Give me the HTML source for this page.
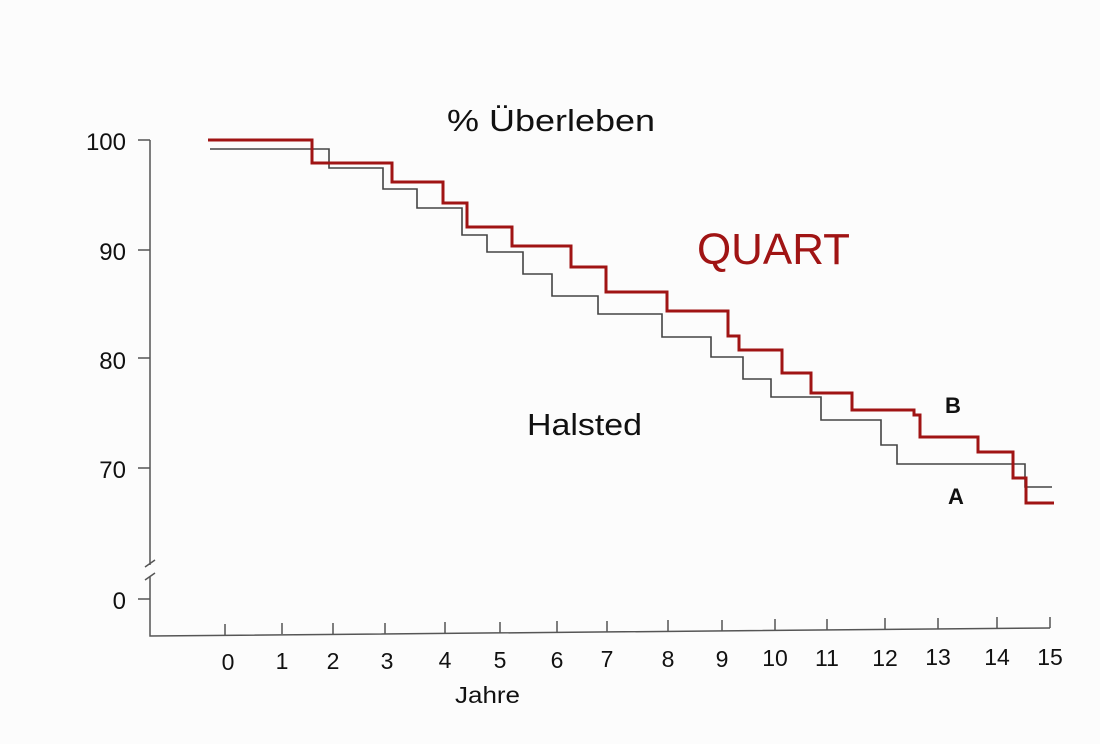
<!DOCTYPE html>
<html><head><meta charset="utf-8"><style>
body{margin:0;background:#fcfcfc;}
svg{display:block;}
text{font-family:"Liberation Sans",sans-serif;}
</style></head><body>
<svg width="1100" height="744" viewBox="0 0 1100 744" xmlns="http://www.w3.org/2000/svg">
<rect width="1100" height="744" fill="#fcfcfc"/>
<g stroke="#555" stroke-width="1.5" fill="none">
<path d="M150 140 V565 M150 577 V636 L1050 628"/>
<path d="M145 567 L155 560 M145 580 L155 573"/>
<path d="M138 140 H150 M138 250 H150 M138 358 H150 M138 468 H150 M138 599 H150"/>
<path d="M225 635 V624 M282 634 V623 M333 634 V623 M385 634 V623 M445 633 V622 M500 633 V622 M557 632 V621 M607 632 V621 M668 631 V620 M722 631 V620 M775 630 V619 M827 630 V619 M885 629 V618 M938 629 V618 M997 628 V617 M1050 628 V617"/>
</g>
<g font-size="24" fill="#111" text-anchor="end">
<text x="126" y="150">100</text><text x="126" y="260">90</text><text x="126" y="369">80</text><text x="126" y="478">70</text><text x="126" y="609">0</text>
</g>
<g font-size="23" fill="#111" text-anchor="middle">
<text x="228" y="670">0</text><text x="282" y="669">1</text><text x="333" y="669">2</text><text x="387" y="669">3</text><text x="445" y="668">4</text><text x="500" y="668">5</text><text x="557" y="668">6</text><text x="607" y="667">7</text><text x="668" y="667">8</text><text x="722" y="667">9</text><text x="775" y="666">10</text><text x="827" y="666">11</text><text x="885" y="666">12</text><text x="938" y="665">13</text><text x="997" y="665">14</text><text x="1050" y="665">15</text>
</g>
<text x="455" y="703" font-size="23" fill="#111" textLength="65" lengthAdjust="spacingAndGlyphs">Jahre</text>
<text x="447" y="131" font-size="31" fill="#111" textLength="208" lengthAdjust="spacingAndGlyphs">% Überleben</text>
<text x="697" y="264" font-size="44" fill="#a01414" textLength="153" lengthAdjust="spacingAndGlyphs">QUART</text>
<text x="527" y="435" font-size="31" fill="#111" textLength="115" lengthAdjust="spacingAndGlyphs">Halsted</text>
<text x="945" y="413" font-size="22" font-weight="bold" fill="#111">B</text>
<text x="948" y="504" font-size="22" font-weight="bold" fill="#111">A</text>
<path fill="none" stroke="#444" stroke-width="1.6" d="M210 149 H329 V168 H383 V189 H417 V208 H462 V235 H487 V252 H523 V274 H552 V296 H598 V314 H662 V337 H711 V357 H743 V379 H771 V397 H821 V420 H881 V445 H897 V464 H1025 V487 H1052"/>
<path fill="none" stroke="#a01414" stroke-width="3" d="M208 140 H312 V163 H392 V182 H443 V203 H467 V227 H512 V246 H571 V267 H606 V292 H667 V311 H728 V336 H739 V350 H782 V373 H811 V393 H852 V410 H914 V415 H920 V437 H978 V452 H1013 V478 H1026 V503 H1054"/>
</svg>
</body></html>
